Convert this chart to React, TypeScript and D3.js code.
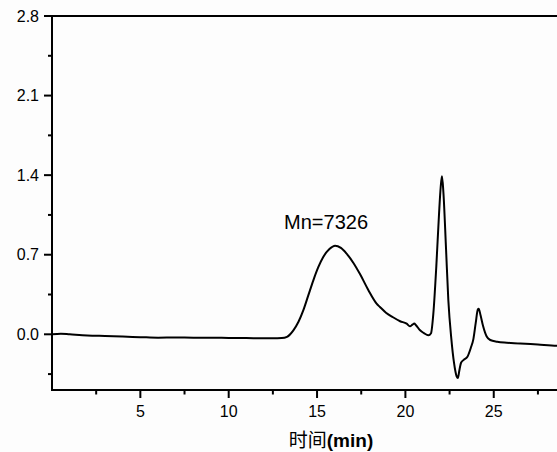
import React from "react";
import * as d3 from "d3";

// Elution time (min) and detector response of the GPC trace
const times = [
  0, 0.5, 1, 2, 3, 4, 5, 6, 7, 8, 9, 10, 11, 12, 12.5, 13, 13.3, 13.66, 13.95, 14.22,
  14.5, 14.79, 15.07, 15.35, 15.7, 16.02, 16.35, 16.67, 17.05, 17.43, 17.9, 18.37,
  18.56, 18.9, 19.3, 19.7, 20.07, 20.26, 20.4, 20.5, 20.6, 20.83, 21.05, 21.3, 21.45,
  21.58, 21.75, 21.9, 22.0, 22.07, 22.15, 22.3, 22.43, 22.6, 22.75, 22.9, 22.97, 23.05,
  23.15, 23.3, 23.5, 23.7, 23.85, 23.98, 24.1, 24.15, 24.25, 24.4, 24.6, 24.8, 25.2,
  25.6, 26.5, 27.5, 28.6, 30,
];
const signal = [
  0.0, 0.005, 0.0, -0.01, -0.015, -0.02, -0.025, -0.03, -0.028, -0.03, -0.03, -0.032,
  -0.033, -0.035, -0.035, -0.033, -0.022, 0.035, 0.11, 0.21, 0.34, 0.475, 0.59, 0.68,
  0.75, 0.78, 0.76, 0.71, 0.63, 0.53, 0.39, 0.27, 0.24, 0.19, 0.15, 0.115, 0.094, 0.07,
  0.085, 0.094, 0.08, 0.035, 0.01, -0.009, 0.01, 0.18, 0.6, 1.05, 1.3, 1.39, 1.25,
  0.75, 0.3, -0.04, -0.25, -0.37, -0.385, -0.32, -0.25, -0.225, -0.2, -0.12, -0.04,
  0.1, 0.22, 0.225, 0.17, 0.07, -0.02, -0.05, -0.065, -0.073, -0.08, -0.09, -0.1, -0.1,
];

const xMajor = [5, 10, 15, 20, 25];
const xMinor = [2.5, 7.5, 12.5, 17.5, 22.5, 27.5];
const yMajor = [0.0, 0.7, 1.4, 2.1, 2.8];
const yMinor = [-0.35, 0.35, 1.05, 1.75, 2.45];

const peakLabel = "Mn=7326";
const peakTime = 16.02;
const peakValue = 0.78;
const xTitleCn = "时间";
const xTitleUnit = "(min)";

const W = 557;
const H = 452;
const left = 52;
const top = 16;
const bottom = 390;

export default function App() {
  const x = d3.scaleLinear().domain([0, 30]).range([left, left + 30 * 17.67]);
  const y = d3.scaleLinear().domain([-0.49, 2.8]).range([bottom, top]);
  const pts: [number, number][] = times.map((t, i) => [t, signal[i]]);
  const line = d3
    .line<[number, number]>()
    .x((d) => x(d[0]))
    .y((d) => y(d[1]))
    .curve(d3.curveMonotoneX);

  const font = "Arial, 'Liberation Sans', sans-serif";
  const axisW = 2;

  return (
    <svg
      width={W}
      height={H}
      style={{ position: "absolute", left: 0, top: 0, background: "#fdfdfd" }}
      fontFamily={font}
    >
      <defs>
        <clipPath id="plotArea">
          <rect x={left} y={top - 5} width={W - left} height={bottom - top + 5} />
        </clipPath>
      </defs>
      <path
        d={line(pts) ?? ""}
        fill="none"
        stroke="#000"
        strokeWidth={2}
        strokeLinejoin="round"
        clipPath="url(#plotArea)"
      />
      {/* frame */}
      <line x1={left} x2={W} y1={top} y2={top} stroke="#000" strokeWidth={axisW} />
      <line x1={left} x2={left} y1={top - 1} y2={bottom + 1} stroke="#000" strokeWidth={axisW} />
      <line x1={left - 1} x2={W} y1={bottom} y2={bottom} stroke="#000" strokeWidth={axisW} />
      {/* y ticks */}
      {yMajor.map((v) => (
        <g key={"ym" + v}>
          <line x1={left - 8} x2={left} y1={y(v)} y2={y(v)} stroke="#000" strokeWidth={axisW} />
          <text x={39} y={y(v) + 5.5} fontSize={16} textAnchor="end">
            {v.toFixed(1)}
          </text>
        </g>
      ))}
      {yMinor.map((v) => (
        <line key={"yn" + v} x1={left - 4} x2={left} y1={y(v)} y2={y(v)} stroke="#000" strokeWidth={axisW} />
      ))}
      {/* x ticks */}
      {xMajor.map((v) => (
        <g key={"xm" + v}>
          <line x1={x(v)} x2={x(v)} y1={bottom} y2={bottom + 8} stroke="#000" strokeWidth={axisW} />
          <text x={x(v)} y={416.5} fontSize={16} textAnchor="middle">
            {v}
          </text>
        </g>
      ))}
      {xMinor.map((v) => (
        <line key={"xn" + v} x1={x(v)} x2={x(v)} y1={bottom} y2={bottom + 4.5} stroke="#000" strokeWidth={axisW} />
      ))}
      {/* axis title */}
      <text x={331} y={447} fontSize={19} textAnchor="middle">
        <tspan fontFamily="'Noto Sans CJK SC', sans-serif">{xTitleCn}</tspan>
        <tspan fontWeight="bold">{xTitleUnit}</tspan>
      </text>
      {/* peak annotation */}
      <text x={x(peakTime) - 51} y={y(peakValue) - 17} fontSize={20}>
        {peakLabel}
      </text>
    </svg>
  );
}
